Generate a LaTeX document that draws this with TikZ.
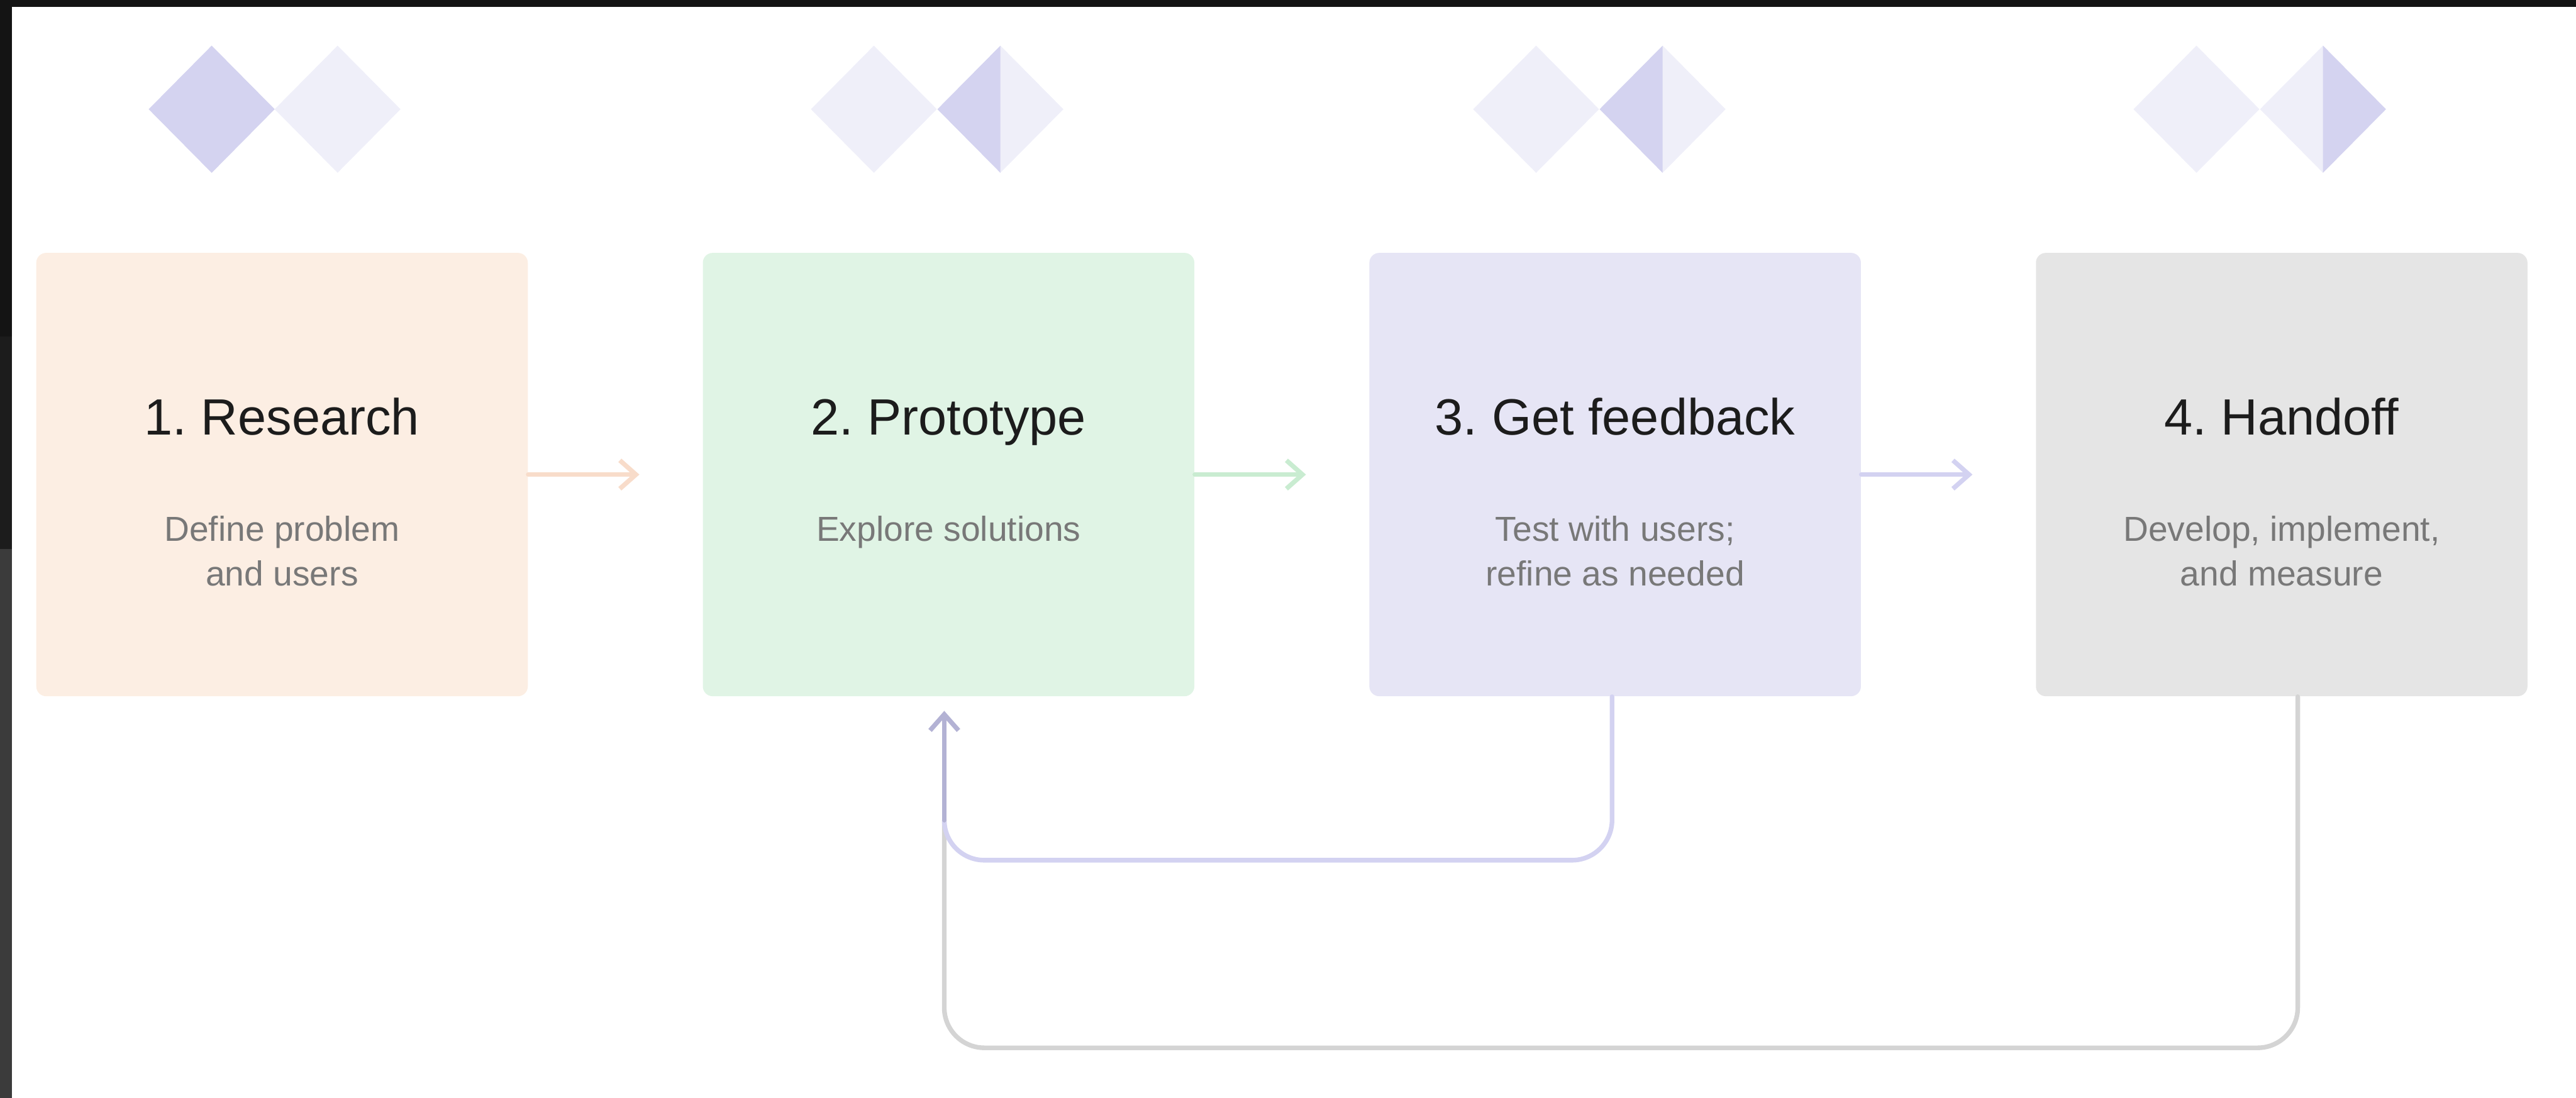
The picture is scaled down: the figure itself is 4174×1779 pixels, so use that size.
\documentclass[tikz,border=0pt]{standalone}
\usepackage{fontspec}
\setmainfont{Liberation Sans}
\frenchspacing
\usetikzlibrary{arrows.meta, positioning}

\definecolor{peachfill}{HTML}{FCEEE3}
\definecolor{greenfill}{HTML}{E0F4E5}
\definecolor{lavfill}{HTML}{E6E5F5}
\definecolor{greyfill}{HTML}{E5E5E5}
\definecolor{peachline}{HTML}{F8DCCA}
\definecolor{greenline}{HTML}{C9ECD1}
\definecolor{lavline}{HTML}{D3D2F1}
\definecolor{lavdark}{HTML}{B3B2D4}
\definecolor{greyline}{HTML}{D4D4D4}
\definecolor{gemdark}{HTML}{D4D3F0}
\definecolor{gemlight}{HTML}{EFEFF9}
\definecolor{titletext}{HTML}{1C1C1C}
\definecolor{subtext}{HTML}{787878}

\begin{document}
\begin{tikzpicture}[
    x=0.01cm, y=-0.01cm,
    node distance=2.82cm,
    stagebox/.style={rectangle, minimum width=7.96cm, minimum height=7.18cm, inner sep=0pt, rounded corners=0.16cm},
    steptitle/.style={anchor=base, text=titletext, font=\fontsize{23.5}{28}\selectfont, inner sep=0pt},
    stepnote/.style={anchor=base, align=center, text=subtext, font=\fontsize{16}{20.5}\selectfont, inner sep=0pt},
    flow/.style={line width=0.075cm, line cap=round, line join=round, -{Straight Barb[length=0.26cm, width=0.46cm]}},
    loopline/.style={line width=0.075cm, line cap=round, rounded corners=0.65cm}
]

\useasboundingbox (0,0) rectangle (4174,1779);

% ============ SCREEN EDGE ============
\fill[black!92] (0,0) rectangle (4174,11);
\fill[black!92] (0,0) rectangle (19,545);
\fill[black!89] (0,545) rectangle (19,890);
\fill[black!77] (0,890) rectangle (19,1779);

% ============ PROGRESS MARKERS ============
% left gem of each pair
\foreach \cx in {343, 1416, 2489, 3559} {
    \fill[gemlight] (\cx,74) -- (\cx+102,177) -- (\cx,280) -- (\cx-102,177) -- cycle;
}
% right gem of each pair
\foreach \cx in {547, 1621, 2694, 3764} {
    \fill[gemlight] (\cx,74) -- (\cx+102,177) -- (\cx,280) -- (\cx-102,177) -- cycle;
}
% filled parts
\fill[gemdark] (343,74) -- (445,177) -- (343,280) -- (241,177) -- cycle;
\fill[gemdark] (1621,74) -- (1621,280) -- (1519,177) -- cycle;
\fill[gemdark] (2694,74) -- (2694,280) -- (2592,177) -- cycle;
\fill[gemdark] (3764,74) -- (3866,177) -- (3764,280) -- cycle;

% ============ STAGES ============
\node[stagebox, fill=peachfill] (research) at (457,769) {};
\node[stagebox, fill=greenfill, right=of research] (proto) {};
\node[stagebox, fill=lavfill, right=of proto] (feedback) {};
\node[stagebox, fill=greyfill, right=of feedback] (handoff) {};

% base of a two-line note is its last line
\node[steptitle] (researchtitle) at ([yshift=0.64cm]research.center) {1. Research};
\node[stepnote] (researchnote) at ([yshift=-1.80cm]research.center) {Define problem\\and users};

\node[steptitle] (prototitle) at ([yshift=0.64cm]proto.center) {2. Prototype};
\node[stepnote] (protonote) at ([yshift=-1.08cm]proto.center) {Explore solutions};

\node[steptitle] (feedbacktitle) at ([yshift=0.64cm]feedback.center) {3. Get feedback};
\node[stepnote] (feedbacknote) at ([yshift=-1.80cm]feedback.center) {Test with users;\\refine as needed};

\node[steptitle] (handofftitle) at ([yshift=0.64cm]handoff.center) {4. Handoff};
\node[stepnote] (handoffnote) at ([yshift=-1.80cm]handoff.center) {Develop, implement,\\and measure};

% ============ ARROWS ============
\draw[flow, peachline] (research.east) -- ([xshift=-1.02cm]proto.west);
\draw[flow, greenline] (proto.east) -- ([xshift=-1.02cm]feedback.west);
\draw[flow, lavline] (feedback.east) -- ([xshift=-1.02cm]handoff.west);

% loops back to prototype
\coordinate (bendtop) at ([xshift=-0.07cm, yshift=-2.0cm]proto.south);
\draw[loopline, greyline] ([xshift=0.26cm]handoff.south) -- ++(0,569) -| (bendtop);
\draw[loopline, lavline] ([xshift=-0.05cm]feedback.south) -- ++(0,265) -| (bendtop);
\draw[flow, lavdark] (bendtop) -- ([xshift=-0.07cm, yshift=-0.23cm]proto.south);

\end{tikzpicture}
\end{document}
